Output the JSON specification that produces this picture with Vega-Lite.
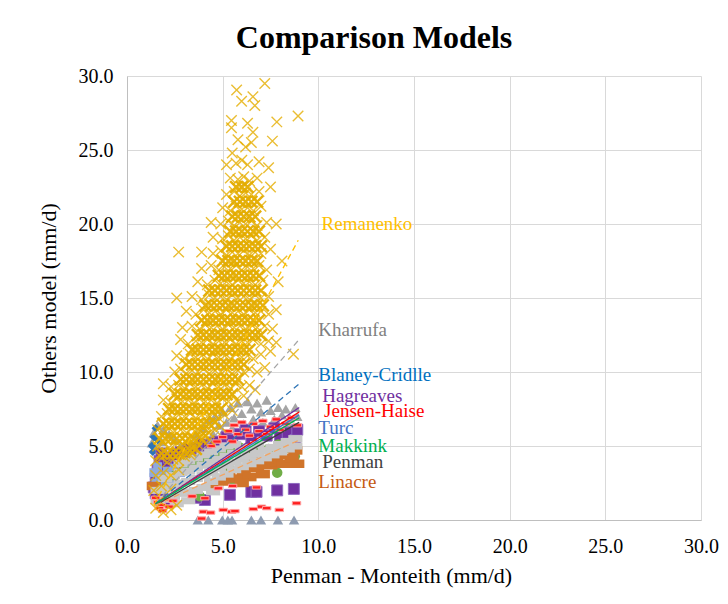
{
  "$schema": "https://vega.github.io/schema/vega-lite/v6.json",
  "width": 574,
  "height": 444,
  "autosize": {"type": "none"},
  "padding": {"left": 127, "top": 76, "right": 27, "bottom": 84},
  "background": "white",
  "title": {"text": "Comparison Models", "font": "Times New Roman, Liberation Serif, DejaVu Serif, serif", "fontSize": 32, "fontWeight": "bold", "color": "#000000", "offset": 11, "dx": -40},
  "config": {"view": {"stroke": null}},
  "datasets": {
    "remanenko": [
      {"x":1.5,"y":0.8},{"x":1.9,"y":0.5},{"x":2.3,"y":0.7},{"x":2.6,"y":1.0},{"x":1.7,"y":1.3},
      {"x":1.4,"y":2.0},{"x":1.8,"y":2.3},{"x":2.3,"y":2.1},
      {"x":1.5,"y":3.0},{"x":1.9,"y":3.2},{"x":2.3,"y":3.0},{"x":2.7,"y":3.4},
      {"x":1.5,"y":4.0},{"x":1.8,"y":4.2},{"x":2.1,"y":3.9},{"x":2.4,"y":4.1},{"x":2.7,"y":4.0},{"x":3.0,"y":4.3},{"x":3.3,"y":4.4},
      {"x":1.6,"y":5.0},{"x":1.9,"y":5.2},{"x":2.2,"y":4.9},{"x":2.5,"y":5.1},{"x":2.8,"y":5.0},{"x":3.1,"y":5.2},{"x":3.4,"y":4.9},{"x":3.7,"y":5.1},{"x":4.0,"y":5.3},{"x":4.3,"y":5.4},
      {"x":1.6,"y":6.1},{"x":1.9,"y":5.9},{"x":2.2,"y":6.2},{"x":2.5,"y":6.0},{"x":2.8,"y":6.1},{"x":3.1,"y":5.9},{"x":3.4,"y":6.2},{"x":3.7,"y":6.0},{"x":4.0,"y":6.2},{"x":4.3,"y":5.9},{"x":4.6,"y":6.1},{"x":4.9,"y":6.3},
      {"x":1.8,"y":7.0},{"x":2.1,"y":7.2},{"x":2.4,"y":6.9},{"x":2.7,"y":7.1},{"x":3.0,"y":7.0},{"x":3.3,"y":7.2},{"x":3.6,"y":6.9},{"x":3.9,"y":7.1},{"x":4.2,"y":7.0},{"x":4.5,"y":7.2},{"x":4.8,"y":6.9},{"x":5.1,"y":7.1},{"x":5.5,"y":7.4},
      {"x":1.9,"y":8.1},{"x":2.3,"y":7.9},{"x":2.6,"y":8.2},{"x":2.9,"y":8.0},{"x":3.2,"y":8.1},{"x":3.5,"y":7.9},{"x":3.8,"y":8.2},{"x":4.1,"y":8.0},{"x":4.4,"y":8.1},{"x":4.7,"y":7.9},{"x":5.0,"y":8.2},{"x":5.3,"y":8.0},{"x":5.7,"y":8.1},{"x":6.1,"y":8.4},
      {"x":1.9,"y":9.2},{"x":2.3,"y":9.0},{"x":2.7,"y":9.1},{"x":3.0,"y":8.9},{"x":3.3,"y":9.2},{"x":3.6,"y":9.0},{"x":3.9,"y":9.1},{"x":4.2,"y":8.9},{"x":4.5,"y":9.2},{"x":4.8,"y":9.0},{"x":5.1,"y":9.1},{"x":5.4,"y":8.9},{"x":5.7,"y":9.2},{"x":6.0,"y":9.0},{"x":6.4,"y":9.1},{"x":6.7,"y":8.8},
      {"x":2.5,"y":10.0},{"x":2.8,"y":10.2},{"x":3.1,"y":9.9},{"x":3.4,"y":10.1},{"x":3.7,"y":10.0},{"x":4.0,"y":10.2},{"x":4.3,"y":9.9},{"x":4.6,"y":10.1},{"x":4.9,"y":10.0},{"x":5.2,"y":10.2},{"x":5.5,"y":9.9},{"x":5.8,"y":10.1},{"x":6.1,"y":10.0},{"x":6.4,"y":10.2},{"x":6.8,"y":10.0},{"x":7.2,"y":10.3},
      {"x":2.6,"y":11.1},{"x":3.0,"y":10.9},{"x":3.3,"y":11.2},{"x":3.6,"y":11.0},{"x":3.9,"y":11.1},{"x":4.2,"y":10.9},{"x":4.5,"y":11.2},{"x":4.8,"y":11.0},{"x":5.1,"y":11.1},{"x":5.4,"y":10.9},{"x":5.7,"y":11.2},{"x":6.0,"y":11.0},{"x":6.3,"y":11.1},{"x":6.6,"y":10.9},{"x":7.0,"y":11.2},{"x":7.5,"y":11.4},{"x":8.7,"y":11.2},
      {"x":2.8,"y":12.2},{"x":3.2,"y":11.9},{"x":3.6,"y":12.1},{"x":3.9,"y":12.0},{"x":4.2,"y":12.2},{"x":4.5,"y":11.9},{"x":4.8,"y":12.1},{"x":5.1,"y":12.0},{"x":5.4,"y":12.2},{"x":5.7,"y":11.9},{"x":6.0,"y":12.1},{"x":6.3,"y":12.0},{"x":6.6,"y":12.2},{"x":7.0,"y":11.9},{"x":7.4,"y":12.1},{"x":7.8,"y":12.0},
      {"x":2.9,"y":13.0},{"x":3.4,"y":13.1},{"x":3.8,"y":12.9},{"x":4.1,"y":13.2},{"x":4.4,"y":13.0},{"x":4.7,"y":13.1},{"x":5.0,"y":12.9},{"x":5.3,"y":13.2},{"x":5.6,"y":13.0},{"x":5.9,"y":13.1},{"x":6.2,"y":12.9},{"x":6.5,"y":13.2},{"x":6.8,"y":13.0},{"x":7.2,"y":13.1},{"x":7.6,"y":12.9},
      {"x":3.1,"y":14.1},{"x":3.6,"y":13.9},{"x":4.0,"y":14.2},{"x":4.3,"y":14.0},{"x":4.6,"y":14.1},{"x":4.9,"y":13.9},{"x":5.2,"y":14.2},{"x":5.5,"y":14.0},{"x":5.8,"y":14.1},{"x":6.1,"y":13.9},{"x":6.4,"y":14.2},{"x":6.7,"y":14.0},{"x":7.0,"y":14.1},{"x":7.4,"y":13.9},{"x":7.8,"y":14.2},
      {"x":2.6,"y":15.0},{"x":3.4,"y":15.1},{"x":3.9,"y":14.9},{"x":4.3,"y":15.2},{"x":4.6,"y":15.0},{"x":4.9,"y":15.1},{"x":5.2,"y":14.9},{"x":5.5,"y":15.2},{"x":5.8,"y":15.0},{"x":6.1,"y":15.1},{"x":6.4,"y":14.9},{"x":6.7,"y":15.2},{"x":7.0,"y":15.0},{"x":7.4,"y":15.1},
      {"x":3.7,"y":16.1},{"x":4.2,"y":15.9},{"x":4.6,"y":16.2},{"x":4.9,"y":16.0},{"x":5.2,"y":16.1},{"x":5.5,"y":15.9},{"x":5.8,"y":16.2},{"x":6.1,"y":16.0},{"x":6.4,"y":16.1},{"x":6.7,"y":15.9},{"x":7.1,"y":16.2},{"x":7.9,"y":16.1},
      {"x":3.9,"y":17.0},{"x":4.4,"y":17.2},{"x":4.8,"y":16.9},{"x":5.1,"y":17.1},{"x":5.4,"y":17.0},{"x":5.7,"y":17.2},{"x":6.0,"y":16.9},{"x":6.3,"y":17.1},{"x":6.6,"y":17.0},{"x":6.9,"y":17.2},{"x":7.3,"y":16.9},{"x":8.1,"y":17.5},
      {"x":2.7,"y":18.1},{"x":3.9,"y":18.1},{"x":4.5,"y":18.0},{"x":4.9,"y":18.2},{"x":5.2,"y":17.9},{"x":5.5,"y":18.1},{"x":5.8,"y":18.0},{"x":6.1,"y":18.2},{"x":6.4,"y":17.9},{"x":6.7,"y":18.1},{"x":7.0,"y":18.0},{"x":7.5,"y":18.3},
      {"x":4.5,"y":19.1},{"x":5.0,"y":19.0},{"x":5.3,"y":19.2},{"x":5.6,"y":18.9},{"x":5.9,"y":19.1},{"x":6.2,"y":19.0},{"x":6.5,"y":19.2},{"x":6.8,"y":18.9},{"x":7.2,"y":19.1},
      {"x":4.4,"y":20.1},{"x":4.9,"y":20.0},{"x":5.3,"y":20.2},{"x":5.6,"y":19.9},{"x":5.9,"y":20.1},{"x":6.2,"y":20.0},{"x":6.5,"y":20.2},{"x":6.8,"y":19.9},{"x":7.3,"y":20.1},{"x":7.8,"y":20.0},
      {"x":5.0,"y":21.1},{"x":5.4,"y":20.9},{"x":5.7,"y":21.2},{"x":6.0,"y":21.0},{"x":6.3,"y":21.1},{"x":6.6,"y":20.9},{"x":7.0,"y":21.2},
      {"x":5.2,"y":22.0},{"x":5.6,"y":22.2},{"x":5.9,"y":21.9},{"x":6.2,"y":22.1},{"x":6.5,"y":22.0},{"x":6.9,"y":22.2},{"x":7.5,"y":22.5},
      {"x":5.4,"y":23.1},{"x":5.8,"y":23.0},{"x":6.1,"y":23.2},{"x":6.4,"y":22.9},{"x":6.8,"y":23.1},
      {"x":5.2,"y":24.0},{"x":5.7,"y":24.1},{"x":6.0,"y":24.3},{"x":6.3,"y":24.0},{"x":6.9,"y":24.2},{"x":7.4,"y":23.8},
      {"x":5.8,"y":25.7},{"x":6.2,"y":25.2},{"x":6.5,"y":25.5},{"x":7.6,"y":25.6},{"x":5.5,"y":24.8},
      {"x":5.46,"y":27.0},{"x":5.46,"y":26.5},{"x":6.58,"y":26.2},{"x":7.83,"y":26.9},{"x":8.94,"y":27.3},{"x":5.73,"y":29.05},{"x":5.99,"y":28.3},{"x":6.58,"y":28.6},{"x":6.68,"y":28.0},{"x":7.2,"y":29.5},{"x":6.3,"y":26.8}
    ],
    "remanenkoCore": [
      {"x":1.8,"y":4.5},{"x":2.1,"y":4.5},{"x":2.4,"y":4.5},{"x":2.7,"y":4.5},{"x":3.0,"y":4.6},{"x":3.3,"y":4.7},{"x":3.6,"y":4.8},
      {"x":1.7,"y":5.5},{"x":2.0,"y":5.5},{"x":2.3,"y":5.5},{"x":2.6,"y":5.5},{"x":2.9,"y":5.5},{"x":3.2,"y":5.5},{"x":3.5,"y":5.5},{"x":3.8,"y":5.6},{"x":4.1,"y":5.7},
      {"x":1.9,"y":6.5},{"x":2.2,"y":6.5},{"x":2.5,"y":6.5},{"x":2.8,"y":6.5},{"x":3.1,"y":6.5},{"x":3.4,"y":6.5},{"x":3.7,"y":6.5},{"x":4.0,"y":6.5},{"x":4.3,"y":6.5},{"x":4.6,"y":6.6},
      {"x":2.2,"y":7.5},{"x":2.5,"y":7.5},{"x":2.8,"y":7.5},{"x":3.1,"y":7.5},{"x":3.4,"y":7.5},{"x":3.7,"y":7.5},{"x":4.0,"y":7.5},{"x":4.3,"y":7.5},{"x":4.6,"y":7.5},{"x":4.9,"y":7.5},
      {"x":2.5,"y":8.5},{"x":2.8,"y":8.5},{"x":3.1,"y":8.5},{"x":3.4,"y":8.5},{"x":3.7,"y":8.5},{"x":4.0,"y":8.5},{"x":4.3,"y":8.5},{"x":4.6,"y":8.5},{"x":4.9,"y":8.5},{"x":5.2,"y":8.5},{"x":5.5,"y":8.5},
      {"x":2.8,"y":9.5},{"x":3.1,"y":9.5},{"x":3.4,"y":9.5},{"x":3.7,"y":9.5},{"x":4.0,"y":9.5},{"x":4.3,"y":9.5},{"x":4.6,"y":9.5},{"x":4.9,"y":9.5},{"x":5.2,"y":9.5},{"x":5.5,"y":9.5},{"x":5.8,"y":9.5},
      {"x":3.1,"y":10.5},{"x":3.4,"y":10.5},{"x":3.7,"y":10.5},{"x":4.0,"y":10.5},{"x":4.3,"y":10.5},{"x":4.6,"y":10.5},{"x":4.9,"y":10.5},{"x":5.2,"y":10.5},{"x":5.5,"y":10.5},{"x":5.8,"y":10.5},{"x":6.1,"y":10.5},
      {"x":3.4,"y":11.5},{"x":3.7,"y":11.5},{"x":4.0,"y":11.5},{"x":4.3,"y":11.5},{"x":4.6,"y":11.5},{"x":4.9,"y":11.5},{"x":5.2,"y":11.5},{"x":5.5,"y":11.5},{"x":5.8,"y":11.5},{"x":6.1,"y":11.5},{"x":6.4,"y":11.5},
      {"x":3.7,"y":12.5},{"x":4.0,"y":12.5},{"x":4.3,"y":12.5},{"x":4.6,"y":12.5},{"x":4.9,"y":12.5},{"x":5.2,"y":12.5},{"x":5.5,"y":12.5},{"x":5.8,"y":12.5},{"x":6.1,"y":12.5},{"x":6.4,"y":12.5},{"x":6.7,"y":12.5},{"x":7.0,"y":12.5},
      {"x":3.9,"y":13.5},{"x":4.2,"y":13.5},{"x":4.5,"y":13.5},{"x":4.8,"y":13.5},{"x":5.1,"y":13.5},{"x":5.4,"y":13.5},{"x":5.7,"y":13.5},{"x":6.0,"y":13.5},{"x":6.3,"y":13.5},{"x":6.6,"y":13.5},{"x":6.9,"y":13.5},
      {"x":4.1,"y":14.5},{"x":4.4,"y":14.5},{"x":4.7,"y":14.5},{"x":5.0,"y":14.5},{"x":5.3,"y":14.5},{"x":5.6,"y":14.5},{"x":5.9,"y":14.5},{"x":6.2,"y":14.5},{"x":6.5,"y":14.5},{"x":6.8,"y":14.5},{"x":7.1,"y":14.5},
      {"x":4.3,"y":15.5},{"x":4.6,"y":15.5},{"x":4.9,"y":15.5},{"x":5.2,"y":15.5},{"x":5.5,"y":15.5},{"x":5.8,"y":15.5},{"x":6.1,"y":15.5},{"x":6.4,"y":15.5},{"x":6.7,"y":15.5},{"x":7.0,"y":15.5},
      {"x":4.8,"y":16.5},{"x":5.1,"y":16.5},{"x":5.4,"y":16.5},{"x":5.7,"y":16.5},{"x":6.0,"y":16.5},{"x":6.3,"y":16.5},{"x":6.6,"y":16.5},{"x":6.9,"y":16.5},
      {"x":5.0,"y":17.5},{"x":5.3,"y":17.5},{"x":5.6,"y":17.5},{"x":5.9,"y":17.5},{"x":6.2,"y":17.5},{"x":6.5,"y":17.5},{"x":6.8,"y":17.5},
      {"x":5.2,"y":18.5},{"x":5.5,"y":18.5},{"x":5.8,"y":18.5},{"x":6.1,"y":18.5},{"x":6.4,"y":18.5},{"x":6.7,"y":18.5},{"x":7.0,"y":18.5},
      {"x":5.4,"y":19.5},{"x":5.7,"y":19.5},{"x":6.0,"y":19.5},{"x":6.3,"y":19.5},{"x":6.6,"y":19.5},{"x":6.9,"y":19.5},
      {"x":5.5,"y":20.5},{"x":5.8,"y":20.5},{"x":6.1,"y":20.5},{"x":6.4,"y":20.5},{"x":6.7,"y":20.5},
      {"x":5.6,"y":21.5},{"x":5.9,"y":21.5},{"x":6.2,"y":21.5},{"x":6.5,"y":21.5},{"x":6.8,"y":21.5},
      {"x":5.7,"y":22.5},{"x":6.0,"y":22.5},{"x":6.3,"y":22.5}
    ],
    "kharrufa": [
      {"x":4.0,"y":6.2},{"x":4.3,"y":6.8},{"x":4.6,"y":7.0},{"x":4.8,"y":6.4},{"x":5.0,"y":7.3},{"x":5.2,"y":6.6},{"x":5.4,"y":7.6},{"x":5.6,"y":6.9},{"x":5.8,"y":7.9},{"x":6.0,"y":7.2},{"x":6.1,"y":6.5},{"x":6.3,"y":8.0},{"x":6.5,"y":7.5},{"x":6.6,"y":6.8},{"x":6.8,"y":7.9},{"x":7.0,"y":7.3},{"x":7.1,"y":6.6},{"x":7.3,"y":8.1},{"x":7.5,"y":7.4},{"x":7.7,"y":6.8},{"x":7.9,"y":7.6},{"x":8.1,"y":7.1},{"x":8.3,"y":7.5},{"x":8.5,"y":6.9},{"x":8.8,"y":7.6},{"x":8.9,"y":7.0},{"x":5.5,"y":6.2},{"x":6.2,"y":6.0},{"x":6.9,"y":6.2},{"x":7.6,"y":6.3},{"x":8.4,"y":6.5},{"x":4.5,"y":5.8},{"x":5.0,"y":5.9},{"x":3.6,"y":5.8},{"x":3.2,"y":5.3},{"x":2.8,"y":5.0},{"x":2.5,"y":5.4},{"x":2.2,"y":5.8},{"x":1.9,"y":6.1},{"x":1.6,"y":6.4},{"x":1.4,"y":5.9},{"x":1.3,"y":5.2},{"x":1.5,"y":4.8},{"x":1.8,"y":5.3}
    ],
    "zeros": [
      {"x":3.7,"y":0},{"x":4.25,"y":0},{"x":4.98,"y":0},{"x":5.27,"y":0},{"x":5.49,"y":0},{"x":6.5,"y":0},{"x":7.0,"y":0},{"x":7.89,"y":0},{"x":8.73,"y":0}
    ],
    "blaney": [
      {"x":1.3,"y":5.0},{"x":1.4,"y":5.6},{"x":1.5,"y":6.2},{"x":1.35,"y":4.6},{"x":1.6,"y":5.4}
    ],
    "hagreaves": [
      {"x":1.4,"y":2.2},{"x":1.5,"y":2.8},{"x":1.6,"y":3.4},{"x":1.7,"y":4.0},{"x":1.8,"y":4.5},{"x":1.9,"y":3.0},{"x":2.0,"y":3.7},{"x":2.2,"y":4.2},{"x":2.3,"y":3.2},{"x":2.5,"y":4.4},{"x":2.6,"y":3.6},{"x":2.8,"y":4.6},{"x":3.0,"y":4.0},{"x":3.2,"y":4.8},{"x":3.4,"y":4.3},{"x":3.6,"y":4.9},{"x":3.9,"y":5.1},{"x":4.2,"y":4.9},{"x":4.5,"y":5.2},{"x":1.5,"y":1.8},{"x":1.7,"y":1.5},{"x":2.0,"y":1.4},
      {"x":4.8,"y":5.3},{"x":5.2,"y":5.6},{"x":5.5,"y":5.4},{"x":5.9,"y":5.8},{"x":6.2,"y":6.1},{"x":6.5,"y":5.5},{"x":6.9,"y":6.0},{"x":7.3,"y":5.7},{"x":7.7,"y":6.2},{"x":8.0,"y":5.6},{"x":8.4,"y":5.9},{"x":8.8,"y":5.4},{"x":8.9,"y":6.1},{"x":8.6,"y":5.0},
      {"x":4.07,"y":1.35},{"x":5.38,"y":1.7},{"x":6.5,"y":1.9},{"x":6.77,"y":1.9},{"x":7.85,"y":2.0},{"x":8.72,"y":2.1},{"x":3.6,"y":1.5}
    ],
    "turc": [
      {"x":1.5,"y":2.5},{"x":1.7,"y":3.0},{"x":1.9,"y":2.6},{"x":2.1,"y":3.3},{"x":1.6,"y":3.6},{"x":2.3,"y":2.8},{"x":2.5,"y":3.5},{"x":1.4,"y":3.2},{"x":2.8,"y":3.2},{"x":3.1,"y":3.6}
    ],
    "makkink": [
      {"x":2.5,"y":3.0},{"x":3.0,"y":3.4},{"x":3.5,"y":3.7},{"x":4.0,"y":4.0},{"x":4.4,"y":4.3},{"x":4.9,"y":4.5},{"x":5.4,"y":4.7},{"x":5.9,"y":4.9},{"x":6.4,"y":4.6},{"x":6.9,"y":5.0},{"x":7.4,"y":4.8},{"x":7.9,"y":5.1},{"x":8.4,"y":4.9},{"x":4.7,"y":2.8},{"x":5.6,"y":2.6},{"x":5.4,"y":3.4},{"x":3.8,"y":1.6},{"x":7.85,"y":3.2},{"x":8.77,"y":4.3}
    ],
    "linacre": [
      {"x":5.3,"y":3.0},{"x":5.7,"y":2.8},{"x":6.1,"y":3.3},{"x":6.4,"y":2.9},{"x":6.8,"y":3.5},{"x":7.1,"y":3.1},{"x":7.5,"y":3.7},{"x":7.8,"y":3.9},{"x":8.2,"y":3.8},{"x":8.6,"y":4.2},{"x":8.9,"y":3.8},{"x":6.0,"y":2.5},{"x":5.0,"y":2.6},{"x":4.4,"y":2.4},{"x":6.6,"y":4.0},{"x":7.3,"y":4.1},{"x":8.0,"y":4.4},{"x":8.8,"y":4.7},{"x":1.4,"y":2.3}
    ],
    "penman": [
      {"x":1.6,"y":1.3},{"x":1.6,"y":2.0},{"x":2.0,"y":1.4},{"x":2.0,"y":2.1},{"x":2.0,"y":2.8},{"x":2.4,"y":1.6},{"x":2.4,"y":2.3},{"x":2.4,"y":3.0},{"x":2.8,"y":1.8},{"x":2.8,"y":2.5},{"x":2.8,"y":3.2},{"x":2.8,"y":3.8},{"x":3.2,"y":1.9},{"x":3.2,"y":2.6},{"x":3.2,"y":3.3},{"x":3.2,"y":4.0},{"x":3.6,"y":2.0},{"x":3.6,"y":2.8},{"x":3.6,"y":3.5},{"x":3.6,"y":4.2},{"x":4.0,"y":2.2},{"x":4.0,"y":3.0},{"x":4.0,"y":3.7},{"x":4.0,"y":4.4},{"x":4.4,"y":2.6},{"x":4.4,"y":3.2},{"x":4.4,"y":3.9},{"x":4.4,"y":4.6},{"x":4.8,"y":2.9},{"x":4.8,"y":3.5},{"x":4.8,"y":4.1},{"x":4.8,"y":4.8},{"x":5.2,"y":3.1},{"x":5.2,"y":3.7},{"x":5.2,"y":4.3},{"x":5.2,"y":5.0},{"x":5.6,"y":3.4},{"x":5.6,"y":3.9},{"x":5.6,"y":4.5},{"x":5.6,"y":5.1},{"x":6.0,"y":3.6},{"x":6.0,"y":4.1},{"x":6.0,"y":4.7},{"x":6.4,"y":3.8},{"x":6.4,"y":4.3},{"x":6.4,"y":4.9},{"x":6.8,"y":4.0},{"x":6.8,"y":4.5},{"x":6.8,"y":5.1},{"x":7.2,"y":4.2},{"x":7.2,"y":4.7},{"x":7.6,"y":4.4},{"x":7.6,"y":4.9},{"x":8.0,"y":4.6},{"x":8.0,"y":5.1},{"x":8.4,"y":4.8},{"x":8.4,"y":5.3},{"x":8.8,"y":5.0},{"x":8.8,"y":5.5},{"x":3.2,"y":1.3},{"x":4.5,"y":1.9},{"x":2.6,"y":1.1}
    ],
    "jensen": [
      {"x":5.0,"y":5.6},{"x":5.3,"y":6.0},{"x":5.6,"y":6.4},{"x":5.8,"y":5.8},{"x":6.0,"y":6.6},{"x":6.2,"y":6.1},{"x":6.4,"y":5.7},{"x":6.6,"y":6.5},{"x":6.9,"y":6.0},{"x":7.1,"y":6.7},{"x":7.3,"y":5.8},{"x":7.5,"y":6.3},{"x":7.8,"y":6.8},{"x":8.0,"y":6.1},{"x":8.3,"y":6.5},{"x":8.6,"y":6.9},{"x":4.7,"y":5.3},{"x":4.4,"y":5.0},{"x":5.5,"y":5.3},{"x":8.9,"y":6.4},
      {"x":1.6,"y":1.2},{"x":1.8,"y":1.0},{"x":2.0,"y":1.4},{"x":1.7,"y":0.8},{"x":2.2,"y":0.9},{"x":1.86,"y":0.63},{"x":2.4,"y":1.3},{"x":1.5,"y":1.5},
      {"x":3.9,"y":0.1},{"x":3.99,"y":0.56},{"x":4.37,"y":0.5},{"x":4.07,"y":1.47},{"x":5.03,"y":0.68},{"x":5.47,"y":0.56},{"x":5.64,"y":0.6},{"x":6.6,"y":0.74},{"x":7.03,"y":0.9},{"x":7.3,"y":0.8},{"x":7.96,"y":0.68},{"x":8.86,"y":1.13},{"x":5.52,"y":2.3},{"x":4.77,"y":2.14},{"x":6.77,"y":2.2},{"x":3.4,"y":1.6}
    ],
    "trends": [
      {"model":"Remanenko","x":1.4,"y":1.0},{"model":"Remanenko","x":8.95,"y":18.9},
      {"model":"Kharrufa","x":1.5,"y":1.1},{"model":"Kharrufa","x":9.0,"y":12.2},
      {"model":"Blaney-Cridlle","x":1.5,"y":1.1},{"model":"Blaney-Cridlle","x":9.0,"y":9.2},
      {"model":"Hagreaves","x":1.5,"y":1.1},{"model":"Hagreaves","x":9.0,"y":7.6},
      {"model":"Jensen-Haise","x":1.5,"y":1.1},{"model":"Jensen-Haise","x":9.0,"y":7.3},
      {"model":"Turc","x":1.5,"y":1.1},{"model":"Turc","x":9.0,"y":7.1},
      {"model":"Makkink","x":1.5,"y":1.1},{"model":"Makkink","x":9.0,"y":6.9},
      {"model":"Penman","x":1.5,"y":1.0},{"model":"Penman","x":9.0,"y":6.6},
      {"model":"Linacre","x":1.5,"y":1.0},{"model":"Linacre","x":9.0,"y":5.4}
    ],
    "labels": [
      {"model":"Remanenko","x":10.17,"y":20.0},
      {"model":"Kharrufa","x":10.0,"y":12.84},
      {"model":"Blaney-Cridlle","x":10.0,"y":9.8},
      {"model":"Hagreaves","x":10.2,"y":8.4},
      {"model":"Jensen-Haise","x":10.3,"y":7.35},
      {"model":"Turc","x":10.0,"y":6.2},
      {"model":"Makkink","x":10.0,"y":5.0},
      {"model":"Penman","x":10.2,"y":3.9},
      {"model":"Linacre","x":10.0,"y":2.6}
    ]
  },
  "encoding": {
    "x": {"field": "x", "type": "quantitative",
      "scale": {"domain": [0, 30], "nice": false, "zero": true},
      "axis": {"values": [0,5,10,15,20,25,30], "format": ".1f", "title": "Penman - Monteith (mm/d)",
        "grid": true, "gridColor": "#D9D9D9", "domainColor": "#BFBFBF", "ticks": false, "tickSize": 0,
        "labelPadding": 16, "labelFlush": false, "labelOverlap": false,
        "labelFont": "Times New Roman, Liberation Serif, DejaVu Serif, serif", "labelFontSize": 20, "labelColor": "#000000",
        "titleFont": "Times New Roman, Liberation Serif, DejaVu Serif, serif", "titleFontSize": 22, "titleFontWeight": "normal", "titleColor": "#000000",
        "titlePadding": 9, "titleX": 264}},
    "y": {"field": "y", "type": "quantitative",
      "scale": {"domain": [0, 30], "nice": false, "zero": true},
      "axis": {"values": [0,5,10,15,20,25,30], "format": ".1f", "title": "Others model (mm/d)",
        "grid": true, "gridColor": "#D9D9D9", "domainColor": "#BFBFBF", "ticks": false, "tickSize": 0,
        "labelPadding": 14, "labelFlush": false, "labelOverlap": false,
        "labelFont": "Times New Roman, Liberation Serif, DejaVu Serif, serif", "labelFontSize": 20, "labelColor": "#000000",
        "titleFont": "Times New Roman, Liberation Serif, DejaVu Serif, serif", "titleFontSize": 22, "titleFontWeight": "normal", "titleColor": "#000000",
        "titlePadding": 18}}
  },
  "layer": [
    {"data": {"name": "kharrufa"}, "mark": {"type": "point", "shape": "triangle-up", "filled": true, "color": "#A5A5A5", "size": 110, "opacity": 1}},
    {"data": {"name": "zeros"}, "mark": {"type": "point", "shape": "triangle-up", "filled": true, "color": "#8E9BB0", "size": 110, "opacity": 1}},
    {"data": {"name": "blaney"}, "mark": {"type": "point", "shape": "diamond", "filled": true, "color": "#2E75B6", "size": 70, "opacity": 1}},
    {"data": {"name": "hagreaves"}, "mark": {"type": "point", "shape": "square", "filled": true, "color": "#7030A0", "size": 120, "opacity": 1, "stroke": "#8F6AC0", "strokeWidth": 1}},
    {"data": {"name": "turc"}, "mark": {"type": "point", "shape": "square", "filled": true, "color": "#8FAADC", "size": 80, "opacity": 1}},
    {"data": {"name": "makkink"}, "mark": {"type": "point", "shape": "circle", "filled": true, "color": "#70AD47", "size": 110, "opacity": 1}},
    {"data": {"name": "linacre"}, "mark": {"type": "point", "shape": "M-1,-0.6L1,-0.6L1,0.6L-1,0.6Z", "filled": true, "color": "#D0742A", "size": 200, "opacity": 1}},
    {"data": {"name": "penman"}, "mark": {"type": "point", "shape": "M-1,-0.5L1,-0.5L1,0.5L-1,0.5Z", "filled": true, "color": "#C8C8C8", "size": 200, "opacity": 1}},
    {"data": {"name": "jensen"}, "mark": {"type": "point", "shape": "M-1,-0.4L1,-0.4L1,0.4L-1,0.4Z", "filled": true, "color": "#FF2020", "stroke": "#FFA0A0", "strokeWidth": 1, "size": 70, "opacity": 1}},
    {"data": {"name": "remanenkoCore"}, "mark": {"type": "point", "shape": "M-1,-1L1,1M-1,1L1,-1", "filled": false, "stroke": "#E3AC00", "strokeWidth": 2.4, "size": 140, "opacity": 0.95}},
    {"data": {"name": "remanenko"}, "mark": {"type": "point", "shape": "M-1,-1L1,1M-1,1L1,-1", "filled": false, "stroke": "#E6AE00", "strokeWidth": 1.4, "size": 110, "opacity": 0.8}},
    {"data": {"name": "trends"}, "mark": {"type": "line", "strokeWidth": 1.3},
      "encoding": {
        "detail": {"field": "model"},
        "color": {"field": "model", "type": "nominal", "legend": null,
          "scale": {"domain": ["Remanenko","Kharrufa","Blaney-Cridlle","Hagreaves","Jensen-Haise","Turc","Makkink","Penman","Linacre"],
                    "range": ["#FFC000","#A5A5A5","#2E75B6","#7030A0","#FF0000","#4472C4","#00B050","#404040","#F4A460"]}},
        "strokeDash": {"field": "model", "type": "nominal", "legend": null,
          "scale": {"domain": ["Remanenko","Kharrufa","Blaney-Cridlle","Hagreaves","Jensen-Haise","Turc","Makkink","Penman","Linacre"],
                    "range": [[6,4],[6,4],[6,4],[1,0],[1,0],[1,0],[1,0],[1,0],[6,4]]}}
      }},
    {"data": {"name": "labels"}, "mark": {"type": "text", "align": "left", "baseline": "middle", "font": "Times New Roman, Liberation Serif, DejaVu Serif, serif", "fontSize": 19},
      "encoding": {
        "text": {"field": "model"},
        "color": {"field": "model", "type": "nominal", "legend": null,
          "scale": {"domain": ["Remanenko","Kharrufa","Blaney-Cridlle","Hagreaves","Jensen-Haise","Turc","Makkink","Penman","Linacre"],
                    "range": ["#FFC000","#808080","#0070C0","#7030A0","#FF0000","#4472C4","#00B050","#404040","#C55A11"]}}
      }}
  ],
  "resolve": {"scale": {"color": "independent"}}
}
